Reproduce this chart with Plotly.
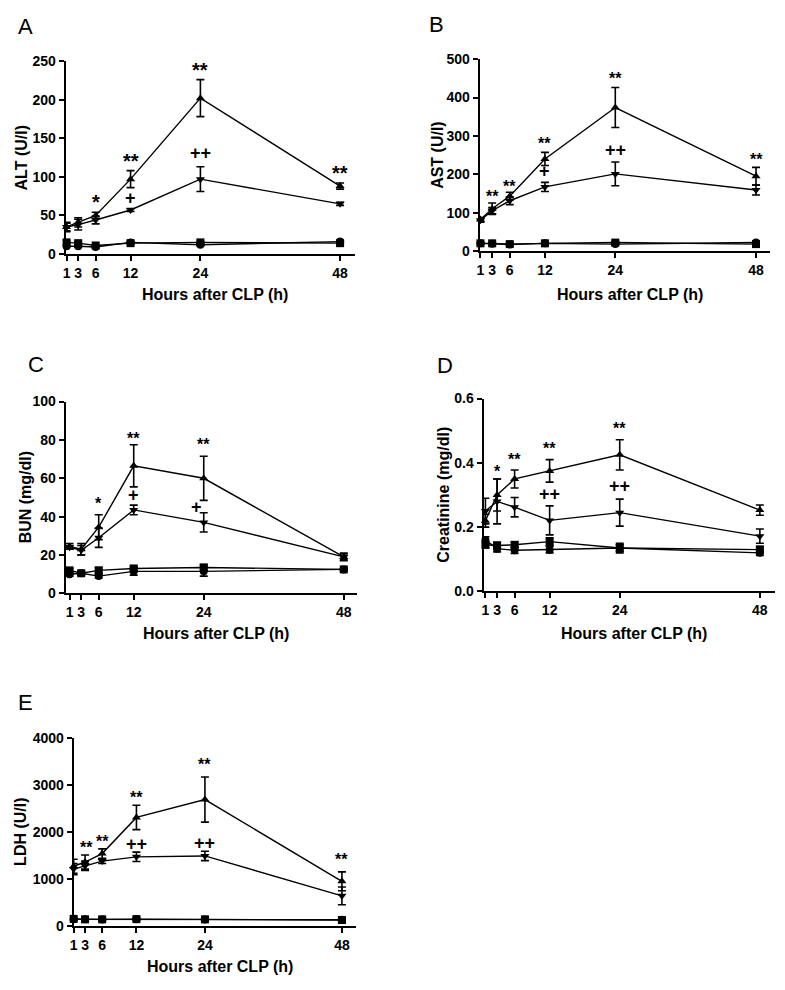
import plotly.graph_objects as go

W, H = 785, 990
FONT = "Liberation Sans"

hours = [1, 3, 6, 12, 24, 48]

# panel A - ALT
alt_up = [35, 41, 50, 97, 202, 88]
alt_up_err = [6, 6, 4, 11, 24, 4]
alt_down = [35, 38, 44, 57, 97, 65]
alt_down_err = [5, 7, 5, 2, 16, 2]
alt_sq = [15, 14, 11, 14, 15, 14]
alt_sq_err = [2, 2, 1, 1, 1, 1]
alt_ci = [10, 10, 9, 15, 12, 16]
alt_ci_err = [1, 1, 1, 1, 1, 1]

# panel B - AST
ast_up = [82, 110, 143, 240, 374, 195]
ast_up_err = [5, 15, 10, 17, 52, 23]
ast_down = [80, 105, 131, 167, 201, 159]
ast_down_err = [5, 8, 10, 12, 31, 13]
ast_sq = [20, 20, 18, 20, 22, 18]
ast_sq_err = [2, 2, 2, 2, 3, 2]
ast_ci = [20, 19, 17, 20, 18, 22]
ast_ci_err = [2, 2, 2, 2, 2, 2]

# panel C - BUN
bun_up = [24.5, 23, 34.5, 66.5, 60, 19]
bun_up_err = [1.5, 3, 6.5, 11, 11.5, 1.5]
bun_down = [24, 22.5, 29, 43.5, 37, 19]
bun_down_err = [1, 2.5, 5, 2.5, 5, 2]
bun_sq = [12, 10.5, 12, 13, 13.5, 12.5]
bun_sq_err = [1, 1, 1.5, 1, 1.5, 0.5]
bun_ci = [10, 10.5, 9, 11.5, 11.5, 12.5]
bun_ci_err = [1, 0.5, 1, 2, 2.5, 0.5]

# panel D - Creatinine
cre_up = [0.22, 0.30, 0.35, 0.375, 0.425, 0.253]
cre_up_err = [0.02, 0.05, 0.028, 0.035, 0.047, 0.016]
cre_down = [0.25, 0.28, 0.262, 0.221, 0.245, 0.172]
cre_down_err = [0.04, 0.07, 0.03, 0.045, 0.042, 0.022]
cre_sq = [0.145, 0.143, 0.145, 0.155, 0.135, 0.13]
cre_sq_err = [0.01, 0.01, 0.008, 0.012, 0.015, 0.01]
cre_ci = [0.16, 0.133, 0.128, 0.13, 0.135, 0.12]
cre_ci_err = [0.01, 0.01, 0.01, 0.01, 0.01, 0.008]

# panel E - LDH
ldh_up = [1270, 1360, 1540, 2310, 2690, 950]
ldh_up_err = [150, 150, 100, 260, 480, 200]
ldh_down = [1210, 1280, 1380, 1470, 1490, 640]
ldh_down_err = [120, 100, 50, 100, 100, 190]
ldh_sq = [150, 140, 140, 145, 140, 125]
ldh_sq_err = [20, 15, 15, 15, 15, 15]
ldh_ci = [140, 140, 135, 140, 135, 130]
ldh_ci_err = [15, 15, 15, 15, 15, 15]

# significance marks: (hour, value, text)
alt_marks = [(6, 68, "*"), (12, 120, "**"), (12, 72, "+"), (24, 239, "**"), (24, 131, "++"), (48, 105, "**")]
ast_marks = [(3, 143, "**"), (6, 169, "**"), (12, 281, "**"), (12, 208, "+"), (24, 450, "**"), (24, 262, "++"), (48, 238, "**")]
bun_marks = [(6, 46.6, "*"), (12, 80.8, "**"), (12, 51.2, "+"), (24, 77.4, "**"), (22.7, 44.9, "+")]
cre_marks = [(3, 0.372, "*"), (6, 0.41, "**"), (12, 0.446, "**"), (12, 0.304, "++"), (24, 0.508, "**"), (24, 0.327, "++")]
ldh_marks = [(0.9, 1592, "**"), (3.3, 1661, "**"), (6, 1801, "**"), (12, 2743, "**"), (12, 1745, "++"), (24, 3441, "**"), (24, 1766, "++"), (48, 1417, "**")]

panels = [
    dict(letter="A", ytitle="ALT (U/l)", series=[(alt_up, alt_up_err), (alt_down, alt_down_err), (alt_sq, alt_sq_err), (alt_ci, alt_ci_err)],
         marks=alt_marks, star=20, px=(62, 353), py=(54, 250), xr=[0.85, 50.6], yr=[0, 250], dtick=50, fmt="",
         letter_pos=(12, 19), xlab_y=291, ytl_x=18),
    dict(letter="B", ytitle="AST (U/l)", series=[(ast_up, ast_up_err), (ast_down, ast_down_err), (ast_sq, ast_sq_err), (ast_ci, ast_ci_err)],
         marks=ast_marks, star=16, px=(478, 770), py=(52, 247), xr=[0.85, 50.4], yr=[0, 500], dtick=100, fmt="",
         letter_pos=(425, 17), xlab_y=291, ytl_x=435),
    dict(letter="C", ytitle="BUN (mg/dl)", series=[(bun_up, bun_up_err), (bun_down, bun_down_err), (bun_sq, bun_sq_err), (bun_ci, bun_ci_err)],
         marks=bun_marks, star=16, px=(62, 355), py=(400, 595), xr=[0.34, 50.3], yr=[0, 100], dtick=20, fmt="",
         letter_pos=(22, 362), xlab_y=636, ytl_x=22),
    dict(letter="D", ytitle="Creatinine (mg/dl)", series=[(cre_up, cre_up_err), (cre_down, cre_down_err), (cre_sq, cre_sq_err), (cre_ci, cre_ci_err)],
         marks=cre_marks, star=16, px=(482, 775), py=(397, 593), xr=[0.68, 50.6], yr=[0, 0.6], dtick=0.2, fmt=".1f",
         letter_pos=(433, 363), xlab_y=636, ytl_x=441),
    dict(letter="E", ytitle="LDH (U/l)", series=[(ldh_up, ldh_up_err), (ldh_down, ldh_down_err), (ldh_sq, ldh_sq_err), (ldh_ci, ldh_ci_err)],
         marks=ldh_marks, star=16, px=(70, 354), py=(742, 933), xr=[1.0, 50.5], yr=[0, 4000], dtick=1000, fmt="",
         letter_pos=(12, 706), xlab_y=974, ytl_x=17),
]

symbols = ["triangle-up", "triangle-down", "square", "circle"]

fig = go.Figure()
annotations = []
layout = {}

for i, p in enumerate(panels):
    n = "" if i == 0 else str(i + 1)
    xa, ya = "x" + n, "y" + n
    for (vals, errs), sym in zip(p["series"], symbols):
        fig.add_trace(go.Scatter(
            x=hours, y=vals, xaxis=xa, yaxis=ya, mode="lines+markers",
            line=dict(color="black", width=1.4),
            marker=dict(symbol=sym, size=8, color="black"),
            error_y=dict(type="data", array=errs, color="black", thickness=1.6, width=4),
            showlegend=False, cliponaxis=False,
        ))
    x0, x1 = p["px"]
    y0, y1 = p["py"]
    axis_common = dict(showline=True, linecolor="black", linewidth=2, ticks="outside", ticklen=5,
                       tickwidth=2, tickcolor="black", showgrid=False, zeroline=False,
                       tickfont=dict(family=FONT, size=14, color="black", weight="bold"))
    layout["xaxis" + n] = dict(axis_common, domain=[x0 / W, x1 / W], range=p["xr"], anchor=ya,
                               tickmode="array", tickvals=hours, ticktext=[str(h) for h in hours])
    layout["yaxis" + n] = dict(axis_common, domain=[1 - y1 / H, 1 - y0 / H], range=p["yr"], anchor=xa,
                               dtick=p["dtick"], tickformat=p["fmt"], tick0=0)
    for hx, hy, txt in p["marks"]:
        if "+" in txt:
            f = dict(family=FONT, size=18, color="black", weight="bold")
        else:
            f = dict(family=FONT, size=p["star"], color="black", weight="bold")
        annotations.append(dict(x=hx, y=hy, xref=xa, yref=ya, text=txt, showarrow=False, font=f))
    annotations.append(dict(x=p["letter_pos"][0] / W, y=1 - p["letter_pos"][1] / H, xref="paper", yref="paper",
                            text=p["letter"], showarrow=False, xanchor="left", yanchor="middle",
                            font=dict(family=FONT, size=22, color="black")))
    annotations.append(dict(x=(x0 + x1) / 2 / W + 0.006, y=1 - p["xlab_y"] / H, xref="paper", yref="paper",
                            text="Hours after CLP (h)", showarrow=False, xanchor="center", yanchor="middle",
                            font=dict(family=FONT, size=16, color="black", weight="bold")))
    annotations.append(dict(x=p["ytl_x"] / W, y=1 - (y0 + y1) / 2 / H, xref="paper", yref="paper",
                            text=p["ytitle"], showarrow=False, textangle=-90, xanchor="center", yanchor="middle",
                            font=dict(family=FONT, size=16, color="black", weight="bold")))

fig.update_layout(width=W, height=H, margin=dict(l=0, r=0, t=0, b=0),
                  paper_bgcolor="white", plot_bgcolor="white",
                  annotations=annotations, **layout)

fig.write_html("out.html", config={"displayModeBar": False},
               post_script="document.body.style.margin='0';")
